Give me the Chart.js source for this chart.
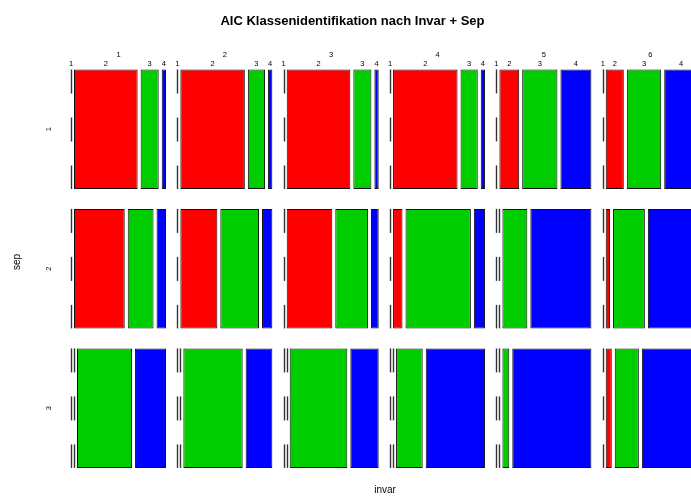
<!DOCTYPE html>
<html>
<head>
<meta charset="utf-8">
<script src="https://cdn.jsdelivr.net/npm/chart.js@4/dist/chart.umd.min.js"></script>
<style>
  html, body { margin: 0; padding: 0; background: #fff; overflow: hidden; }
  #wrap { position: relative; width: 720px; height: 498px; }
</style>
</head>
<body>
<div id="wrap"><canvas id="c"></canvas></div>
<script>
// Factor levels
const invarLevels = ['1', '2', '3', '4', '5', '6'];
const sepLevels = ['1', '2', '3'];
const classLevels = ['1', '2', '3', '4'];

// Identified class counts (classes 1..4) for each invar level, one array per sep level
const sep1Counts = [[0, 74, 21, 5], [0, 75, 20, 5], [0, 74, 21, 5], [0, 75, 20, 5], [0, 23, 41, 36], [0, 21, 40, 39]];
const sep2Counts = [[0, 59, 30, 11], [0, 43, 45, 12], [0, 53, 38, 9], [0, 11, 76, 13], [0, 0, 29, 71], [0, 5, 37, 58]];
const sep3Counts = [[0, 0, 64, 36], [0, 0, 69, 31], [0, 0, 67, 33], [0, 0, 31, 69], [0, 0, 8, 92], [0, 7, 28, 65]];

// R palette 1:4
const classColors = ['#000000', '#FF0000', '#00CD00', '#0000FF'];

const countsBySep = [sep1Counts, sep2Counts, sep3Counts];

// Mosaic geometry in units of one invar column width
const classGap = 3 / 95;
const colGap = 11.35 / 95;
const barPct = 119.5 / 139.5;
const xMax = invarLevels.length + (invarLevels.length - 1) * colGap;

function colStart(i) { return i * (1 + colGap); }

// Split one invar x sep cell horizontally by class share
function cellSegments(i, counts) {
  const total = counts.reduce((a, b) => a + b, 0);
  const avail = 1 - classGap * (counts.length - 1);
  let pos = colStart(i);
  return counts.map((n, k) => {
    const w = total ? n / total * avail : 0;
    const seg = { k, start: pos, end: pos + w, zero: n === 0 };
    pos += w + classGap;
    return seg;
  });
}

const datasets = [];
invarLevels.forEach((lv, i) => {
  classLevels.forEach((cl, k) => {
    datasets.push({
      label: 'invar ' + lv + ' / Klasse ' + cl,
      data: countsBySep.map(rows => {
        const s = cellSegments(i, rows[i])[k];
        return s.zero ? null : [s.start, s.end];
      }),
      backgroundColor: classColors[k],
      borderColor: '#111111',
      borderWidth: 1,
      borderSkipped: false,
      grouped: false,
      categoryPercentage: 1,
      barPercentage: barPct
    });
  });
});

const FONT = '"Liberation Sans", Arial, Helvetica, sans-serif';

const mosaicDecor = {
  id: 'mosaicDecor',
  afterDatasetsDraw(chart) {
    const { ctx, scales: { x, y } } = chart;
    const band = (y.bottom - y.top) / sepLevels.length;
    const half = band * barPct / 2;

    // Empty cells as dashed lines
    ctx.save();
    ctx.strokeStyle = '#333333';
    ctx.lineWidth = 1.4;
    ctx.setLineDash([24, 24]);
    countsBySep.forEach((rows, r) => {
      const cy = y.getPixelForValue(r);
      rows.forEach((counts, i) => {
        cellSegments(i, counts).forEach(s => {
          if (!s.zero) return;
          const px = Math.round(x.getPixelForValue(s.start)) + 0.5;
          ctx.beginPath();
          ctx.moveTo(px, cy - half);
          ctx.lineTo(px, cy + half);
          ctx.stroke();
        });
      });
    });
    ctx.restore();

    const top = y.getPixelForValue(0) - half;

    ctx.save();
    ctx.fillStyle = '#000000';
    ctx.textAlign = 'center';
    ctx.textBaseline = 'middle';

    // invar levels and class labels along the top
    ctx.font = '7.5px ' + FONT;
    invarLevels.forEach((lv, i) => {
      ctx.fillText(lv, x.getPixelForValue(colStart(i) + 0.5), top - 14.8);
      cellSegments(i, sep1Counts[i]).forEach(s => {
        ctx.fillText(classLevels[s.k], x.getPixelForValue((s.start + s.end) / 2), top - 5.6);
      });
    });

    // sep levels on the left, rotated
    sepLevels.forEach((lv, r) => {
      ctx.save();
      ctx.translate(x.left - 22.5, y.getPixelForValue(r));
      ctx.rotate(-Math.PI / 2);
      ctx.fillText(lv, 0, 0);
      ctx.restore();
    });

    // Axis titles
    ctx.font = '10px ' + FONT;
    ctx.fillText('invar', 385, 490);
    ctx.save();
    ctx.translate(17.5, 262);
    ctx.rotate(-Math.PI / 2);
    ctx.fillText('sep', 0, 0);
    ctx.restore();

    // Main title
    ctx.font = 'bold 13px ' + FONT;
    ctx.fillText('AIC Klassenidentifikation nach Invar + Sep', 352.5, 21);
    ctx.restore();
  }
};

new Chart(document.getElementById('c'), {
  type: 'bar',
  data: { labels: sepLevels, datasets },
  options: {
    indexAxis: 'y',
    responsive: true,
    maintainAspectRatio: false,
    animation: false,
    layout: { padding: { left: 71, right: 720 - 71 - xMax * 95, top: 59.4, bottom: 20.1 } },
    scales: {
      x: { type: 'linear', min: 0, max: xMax, display: false },
      y: { type: 'category', display: false }
    },
    plugins: {
      legend: { display: false },
      tooltip: { enabled: false },
      title: { display: false }
    }
  },
  plugins: [mosaicDecor]
});
</script>
</body>
</html>
